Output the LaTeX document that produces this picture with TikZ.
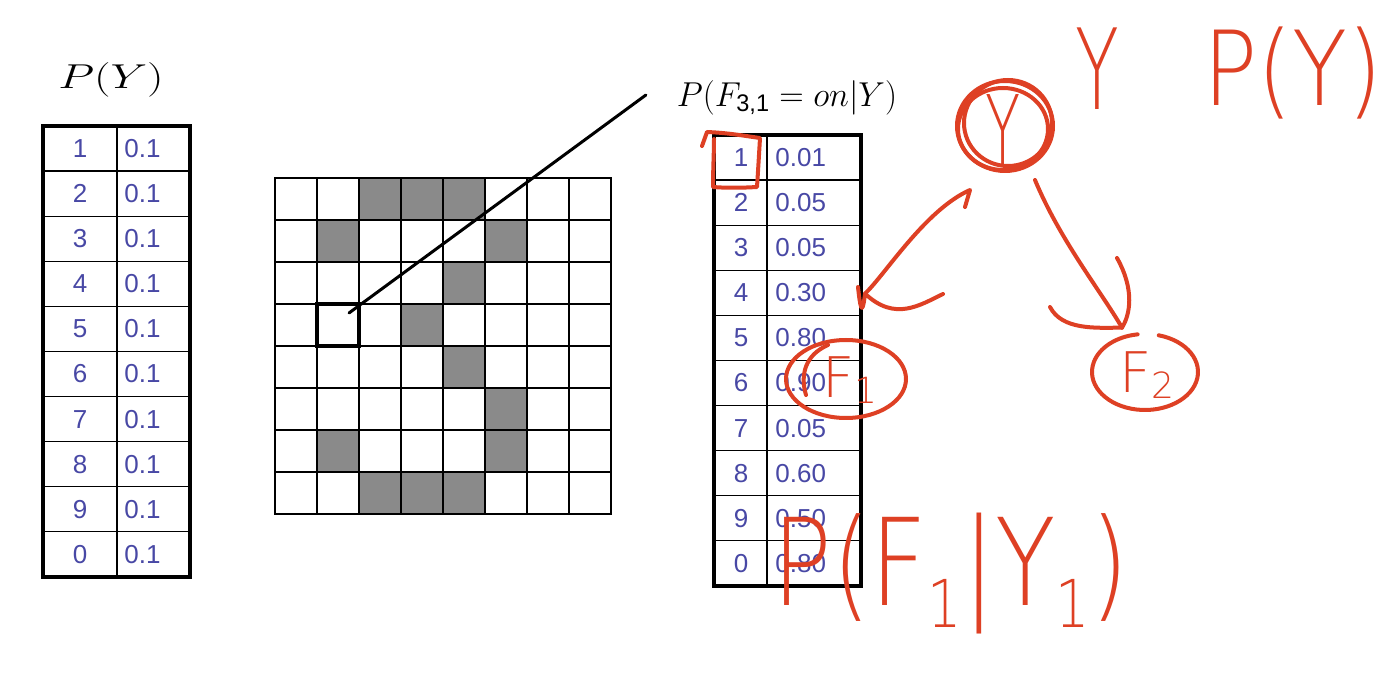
\documentclass[tikz,border=0pt]{standalone}
\usepackage{graphicx}
\usepackage{fontspec}
\newfontfamily\tabfont{Liberation Sans}
\newfontfamily\handfont{DejaVu Sans ExtraLight}
\usetikzlibrary{calc,shapes.geometric}
\definecolor{tabblue}{RGB}{72,72,165}
\definecolor{pen}{RGB}{222,64,36}
\definecolor{pixgray}{RGB}{138,138,138}
\begin{document}
\begin{tikzpicture}[x=0.5pt,y=-0.5pt,
  cell/.style={draw=black, line width=0.6pt},
  outer/.style={draw=black, line width=1.8pt},
  numtxt/.style={font=\tabfont\fontsize{13}{15}\selectfont, text=tabblue, inner sep=0pt},
  pix/.style={draw=black, line width=0.6pt, fill=white},
  pixon/.style={draw=black, line width=0.6pt, fill=pixgray},
  ink/.style={draw=pen, line width=2pt, line cap=round, line join=round},
  inktxt/.style={text=pen, inner sep=0pt},
  inknode/.style={ellipse, inner sep=0pt}
]
\useasboundingbox (0,0) rectangle (1394,700);
\fill[white] (0,0) rectangle (1394,700);

% ---------- left table P(Y)
\node (pylab) at (111,80) {\fontsize{17.28}{20}\selectfont\scalebox{1.35}[1]{$P(Y)$}};
\foreach \k/\v [count=\r from 0] in {1/0.1,2/0.1,3/0.1,4/0.1,5/0.1,6/0.1,7/0.1,8/0.1,9/0.1,0/0.1} {
  \draw[cell] (43,{126+45.1*\r}) rectangle (117,{126+45.1*(\r+1)});
  \draw[cell] (117,{126+45.1*\r}) rectangle (190,{126+45.1*(\r+1)});
  \node[numtxt] (lk\r) at (80,{148.5+45.1*\r}) {\k};
  \node[numtxt, anchor=west] (lv\r) at (124,{148.5+45.1*\r}) {\v};
}
\draw[outer] (43,126) rectangle (190,577);

% ---------- pixel grid
\foreach \c in {0,...,7} {
  \foreach \r in {0,...,7} {
    \draw[pix] ({275+42*\c},{178+42*\r}) rectangle ++(42,42);
  }
}
\foreach \c/\r in {2/0,3/0,4/0,1/1,5/1,4/2,3/3,4/4,5/5,1/6,5/6,2/7,3/7,4/7} {
  \draw[pixon] ({275+42*\c},{178+42*\r}) rectangle ++(42,42);
}
\node[draw=black, line width=2pt, minimum size=21pt, inner sep=0pt] (hl) at (338,325) {};

% ---------- label and leader line
\node (flab) at (787,98) {\fontsize{17.28}{20}\selectfont\scalebox{0.98}[1]{$P(F_{\mbox{\tabfont\fontsize{12}{12}\selectfont 3,1}} = on|Y)$}};
\coordinate (lend) at ($(flab.west)+(-24,-3)$);
\coordinate (lstart) at ($(hl.center)+(11,-12)$);
\draw[line width=1.5pt, line cap=round] (lstart) -- (lend);

% ---------- right table
\foreach \k/\v [count=\r from 0] in {1/0.01,2/0.05,3/0.05,4/0.30,5/0.80,6/0.90,7/0.05,8/0.60,9/0.50,0/0.80} {
  \draw[cell] (714,{135+45.1*\r}) rectangle (767,{135+45.1*(\r+1)});
  \draw[cell] (767,{135+45.1*\r}) rectangle (861,{135+45.1*(\r+1)});
  \node[numtxt] (rk\r) at (741,{157.5+45.1*\r}) {\k};
  \node[numtxt, anchor=west] (rv\r) at (775,{157.5+45.1*\r}) {\v};
}
\draw[outer] (714,135) rectangle (861,586);

% ---------- handwritten annotations
% square around the "1"
\draw[ink] (702,146) -- (707,132) .. controls (730,133) and (745,136) .. (760,138)
  .. controls (759,155) and (758,172) .. (757,187)
  .. controls (740,188) and (725,188) .. (713,187)
  .. controls (713,170) and (714,152) .. (714,139);

% node Y
\node[inknode, draw=pen, line width=2pt, minimum width=48pt, minimum height=45pt] (Y) at (1005,126) {};
\draw[ink] ($(Y.center)+(-2,3)$) ellipse [x radius=45, y radius=41];
\draw[ink] ($(Y.center)+(3,-3)$) ellipse [x radius=44, y radius=43];
\node[inktxt] (Ytxt) at (1003,130) {\handfont\fontsize{48}{48}\selectfont\scalebox{0.6}[1]{Y}};

% text Y and P(Y)
\node[inktxt] (Ybig) at (1097,69) {\handfont\fontsize{56}{56}\selectfont\scalebox{0.64}[1]{Y}};
\node[inktxt, anchor=base west] (PYh) at (1203,106) {\handfont\fontsize{45}{45}\selectfont\scalebox{1}[1.15]{P(Y)}};

% node F1
\node[inknode, minimum width=60pt, minimum height=39pt] (F1) at (846,379) {};
\draw[ink] (F1.center) ellipse [x radius=60, y radius=39];
\draw[ink] (828,345) .. controls (805,355) and (800,375) .. (806,395);
\node[inktxt] (F1txt) at (850,380) {\handfont\fontsize{28}{28}\selectfont F\raisebox{-3pt}{\fontsize{18}{18}\selectfont 1}};

% node F2 (open loop)
\node[inknode, minimum width=53pt, minimum height=38pt] (F2) at (1145,372) {};
\draw[ink] ($(F2.center)+({53*cos(-75)},{38*sin(-75)})$) arc[start angle=-75, end angle=262, x radius=53, y radius=38];
\node[inktxt] (F2txt) at (1147,375) {\handfont\fontsize{28}{28}\selectfont F\raisebox{-3pt}{\fontsize{18}{18}\selectfont 2}};

% arrow Y -> F1
\coordinate (a1top) at ($(Y.center)+(-35,64)$);
\coordinate (a1tip) at ($(F1.north)+(19,-46)$);
\draw[ink] (a1tip) .. controls (885,275) and (925,210) .. (a1top) -- ++(-5,17);
\draw[ink] (858,287) .. controls (860,305) and (862,320) .. (a1tip) .. controls (895,322) and (920,305) .. (943,294);

% arrow Y -> F2
\coordinate (a2top) at ($(Y.center)+(30,54)$);
\coordinate (a2tip) at ($(F2.north)+(-23,-6)$);
\draw[ink] (a2top) .. controls (1060,240) and (1100,290) .. (a2tip);
\draw[ink] (1117,258) .. controls (1135,290) and (1130,315) .. (a2tip);
\draw[ink] (1050,307) .. controls (1062,330) and (1095,328) .. (a2tip);

% P(F1|Y1)
\node[inktxt, anchor=base west] (PFY) at (772,605) {\handfont\fontsize{55}{55}\selectfont\scalebox{0.9}[1.1]{P(F\raisebox{-10pt}{\fontsize{30}{30}\selectfont 1}|Y\raisebox{-10pt}{\fontsize{30}{30}\selectfont 1})}};
\end{tikzpicture}
\end{document}
